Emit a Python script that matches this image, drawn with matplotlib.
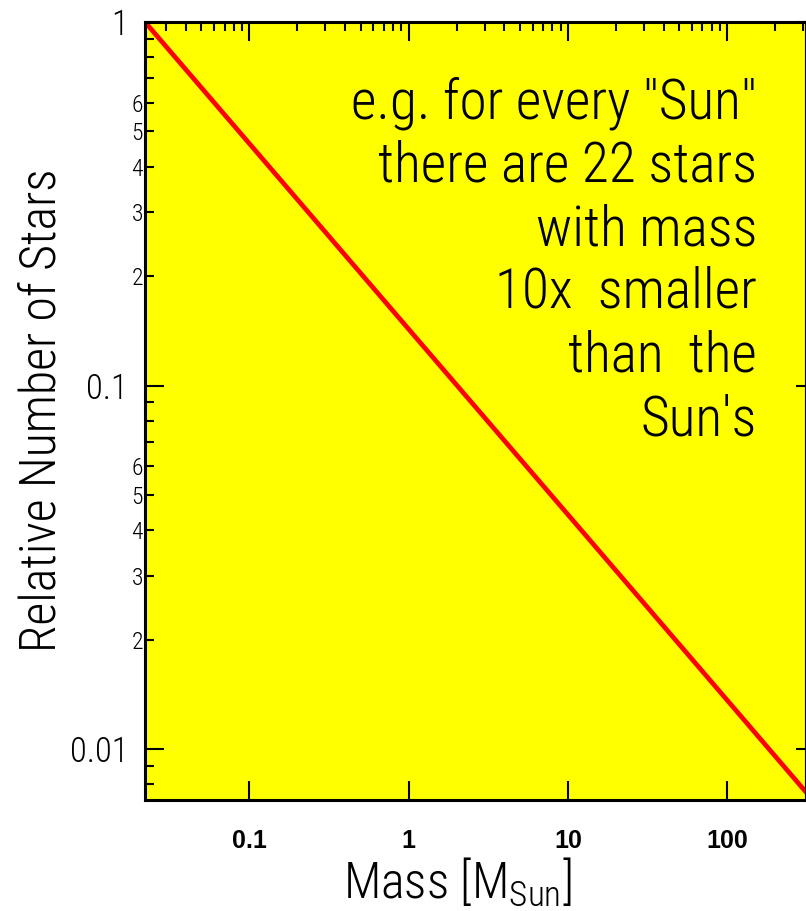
import matplotlib
matplotlib.use("Agg")
import matplotlib.pyplot as plt
from matplotlib import font_manager
from matplotlib.ticker import FixedLocator, FixedFormatter, LogLocator, FuncFormatter
import numpy as np

# ---------------- data ----------------
mass = [0.0221, 0.1, 1.0, 10.0, 100.0, 313.0]
rel_number = [1.0, 0.463, 0.143, 0.0442, 0.01365, 0.00762]

x_ticks = [0.1, 1, 10, 100]
x_tick_labels = ["0.1", "1", "10", "100"]
y_ticks = [1, 0.1, 0.01]
y_tick_labels = ["1", "0.1", "0.01"]
y_minor_labels = ["2", "3", "4", "5", "6"]

note_lines = ['e.g. for every "Sun"', "there are 22 stars", "with mass",
              "10x  smaller", "than  the", "Sun's"]

# ---------------- fonts ----------------
avail = {f.name for f in font_manager.fontManager.ttflist}
def pick(*names):
    for n in names:
        if n in avail:
            return n
    return "DejaVu Sans"
narrow = pick("Liberation Sans Narrow", "Roboto Condensed", "DejaVu Sans")
boldsans = pick("Liberation Sans", "Arial", "DejaVu Sans")

plt.rcParams["mathtext.fontset"] = "custom"
plt.rcParams["mathtext.rm"] = narrow + ":light"
plt.rcParams["mathtext.it"] = narrow
plt.rcParams["mathtext.bf"] = narrow

W, H = 806, 911
fig = plt.figure(figsize=(W / 100, H / 100), dpi=100)
ax = fig.add_axes([145 / W, (H - 800) / H, (W - 145) / W, (800 - 22) / H])
ax.set_facecolor("#FFFF00")

ax.plot(mass, rel_number, color="#FF0000", lw=3.4, solid_capstyle="round")
ax.set_xscale("log")
ax.set_yscale("log")
ax.set_xlim(0.0221, 313)
ax.set_ylim(0.00725, 1.0)

for s in ax.spines.values():
    s.set_linewidth(2.2)
    s.set_color("black")

# x ticks
ax.xaxis.set_major_locator(FixedLocator(x_ticks))
ax.xaxis.set_major_formatter(FixedFormatter(x_tick_labels))
ax.xaxis.set_minor_locator(LogLocator(base=10, subs=np.arange(2, 10), numticks=20))
ax.xaxis.set_minor_formatter(FuncFormatter(lambda v, p: ""))
ax.tick_params(axis="x", which="major", direction="in", length=14, width=1.5,
               top=True, bottom=True, pad=21)
ax.tick_params(axis="x", which="minor", direction="in", length=6.5, width=1.5,
               top=True, bottom=False)
for lab in ax.get_xticklabels():
    lab.set_fontfamily(boldsans)
    lab.set_fontweight("bold")
    lab.set_fontsize(18)

# y ticks
ax.yaxis.set_major_locator(FixedLocator(y_ticks))
ax.yaxis.set_major_formatter(FixedFormatter(y_tick_labels))
ax.yaxis.set_minor_locator(LogLocator(base=10, subs=np.arange(2, 10), numticks=20))

def minor_fmt(v, p):
    mant = int(round(v / 10 ** np.floor(np.log10(v) + 1e-9)))
    s = str(mant)
    return s if s in y_minor_labels else ""
ax.yaxis.set_minor_formatter(FuncFormatter(minor_fmt))
ax.tick_params(axis="y", which="major", direction="in", length=14, width=1.5,
               left=True, right=False, pad=12, labelsize=25)
ax.tick_params(axis="y", which="minor", direction="in", length=6.5, width=1.5,
               left=True, right=False, pad=1.5, labelsize=17)
for lab in ax.get_yticklabels(which="both"):
    lab.set_fontfamily(narrow)
    lab.set_fontweight("light")

# right-side short ticks at majors
sec = ax.secondary_yaxis("right")
sec.yaxis.set_major_locator(FixedLocator(y_ticks))
sec.yaxis.set_minor_locator(FixedLocator([]))
sec.tick_params(axis="y", which="major", direction="in", length=7, width=1.5,
                labelright=False)
sec.spines["right"].set_linewidth(2.2)

# note text
baselines = [118, 182, 245, 308, 372, 435]
for line, yb in zip(note_lines, baselines):
    fig.text(757 / W, 1 - yb / H, line, ha="right", va="baseline",
             fontsize=40, fontfamily=narrow, fontweight="light", color="black")

# axis labels
fig.text(457 / W, 1 - 898 / H, r"Mass [M$_{\mathrm{Sun}}$]", ha="center",
         va="baseline", fontsize=36, fontfamily=narrow, fontweight="light")
fig.text(42 / W, 1 - 410 / H, "Relative Number of Stars", rotation=90,
         ha="center", va="center", fontsize=36, fontfamily=narrow,
         fontweight="light")

fig.savefig("out.png", dpi=100, facecolor="white")
